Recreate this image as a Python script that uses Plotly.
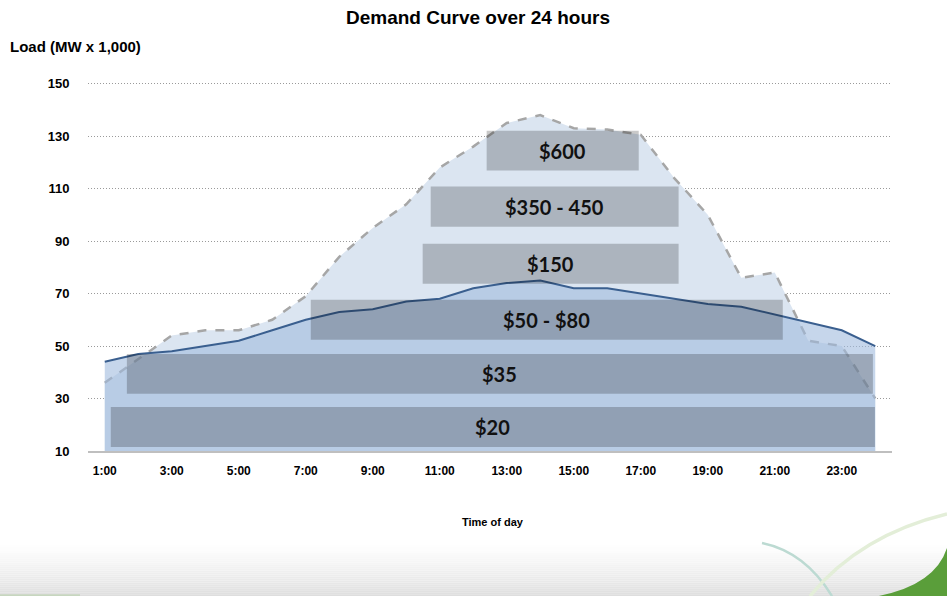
import plotly.graph_objects as go

hours = list(range(1, 25))
tick_hours = [1, 3, 5, 7, 9, 11, 13, 15, 17, 19, 21, 23]
tick_labels = ["1:00", "3:00", "5:00", "7:00", "9:00", "11:00", "13:00", "15:00",
               "17:00", "19:00", "21:00", "23:00"]
y_ticks = [10, 30, 50, 70, 90, 110, 130, 150]

# Peak-day demand (dashed, light fill)
peak_load = [36, 45, 54, 56, 56, 60, 69, 84, 95, 104, 118, 126,
             135, 138, 133, 132.5, 130.5, 114, 100, 76, 78, 52, 50, 30]
# Average demand (solid line, darker fill)
avg_load = [44, 47, 48, 50, 52, 56, 60, 63, 64, 67, 68, 72,
            74, 75, 72, 72, 70, 68, 66, 65, 62, 59, 56, 50]

price_labels = ["$20", "$35", "$50 - $80", "$150", "$350 - 450", "$600"]
# price band boxes (hour start, hour end, load low, load high)
price_boxes = [(1.18, 23.99, 11.5, 26.8),
               (1.66, 23.93, 31.8, 47.0),
               (7.15, 21.24, 52.4, 67.6),
               (10.49, 18.13, 73.7, 89.0),
               (10.73, 18.13, 95.5, 110.8),
               (12.4, 16.94, 116.9, 132.0)]

FONT = "Liberation Sans, Arial, sans-serif"
YMIN, YMAX = 10, 151

# plot area pixel geometry
W, H = 947, 596
L, R, B = 88, 892, 451
T = B - (YMAX - YMIN) * (367.0 / 140.0)


def px(x):
    return (x - L) / (R - L)


def py(y):
    return (B - y) / (B - T)


fig = go.Figure()
fig.add_trace(go.Scatter(
    x=hours, y=peak_load, mode="lines", fill="tozeroy",
    fillcolor="#dbe5f1", line=dict(color="#a6a6a6", width=2.5, dash="dash"),
    hoverinfo="skip", showlegend=False))
fig.add_trace(go.Scatter(
    x=hours, y=avg_load, mode="lines", fill="tozeroy",
    fillcolor="rgba(160,187,222,0.6)", line=dict(color="#3a5f8f", width=2),
    hoverinfo="skip", showlegend=False))

shapes = []
annotations = []
for lab, (x0, x1, y0, y1) in zip(price_labels, price_boxes):
    shapes.append(dict(type="rect", xref="x", yref="y", x0=x0, x1=x1, y0=y0, y1=y1,
                       fillcolor="rgba(0,0,0,0.21)", line=dict(width=0), layer="above"))
    annotations.append(dict(x=(x0 + x1) / 2, y=(y0 + y1) / 2, xref="x", yref="y",
                            text=lab, showarrow=False,
                            font=dict(family="Lato, Open Sans, sans-serif", size=20,
                                      color="#111111", weight="bold")))

# bottom gradient
n = 26
top_y, bot_y = 545, 596
for i in range(n):
    ya = top_y + (bot_y - top_y) * i / n
    yb = top_y + (bot_y - top_y) * (i + 1) / n
    g = int(255 - (255 - 222) * ((i + 0.5) / n) ** 1.2)
    shapes.append(dict(type="rect", xref="paper", yref="paper",
                       x0=px(0), x1=px(W), y0=py(yb), y1=py(ya),
                       fillcolor="rgb(%d,%d,%d)" % (g, g, g), line=dict(width=0), layer="below"))

# decorative curves
shapes.append(dict(type="path", xref="paper", yref="paper",
                   path="M %f,%f Q %f,%f %f,%f" % (px(762), py(543), px(805), py(552), px(832), py(596)),
                   line=dict(color="#bcdad2", width=2.5), layer="below"))
shapes.append(dict(type="path", xref="paper", yref="paper",
                   path="M %f,%f Q %f,%f %f,%f" % (px(810), py(596), px(860), py(535), px(947), py(514)),
                   line=dict(color="#e3eed8", width=3.5), layer="below"))
shapes.append(dict(type="path", xref="paper", yref="paper",
                   path="M %f,%f Q %f,%f %f,%f L %f,%f Z" % (px(878), py(596), px(935), py(585), px(947), py(548),
                                                           px(947), py(596)),
                   fillcolor="#5a9e3a", line=dict(width=0), layer="below"))
shapes.append(dict(type="line", xref="paper", yref="paper",
                   x0=px(0), x1=px(80), y0=py(595), y1=py(595),
                   line=dict(color="#c7d6bf", width=2), layer="below"))

annotations.append(dict(xref="paper", yref="paper", x=px(8), y=py(47),
                        xanchor="left", yanchor="middle", showarrow=False,
                        text="Load (MW x 1,000)",
                        font=dict(family=FONT, size=15, color="#000000", weight="bold")))
annotations.append(dict(xref="paper", yref="paper", x=px(493), y=py(522),
                        xanchor="center", yanchor="middle", showarrow=False,
                        text="Time of day",
                        font=dict(family=FONT, size=11, color="#000000", weight="bold")))

fig.update_layout(
    width=W, height=H,
    margin=dict(l=L, r=W - R, t=T, b=H - B, pad=0),
    paper_bgcolor="white", plot_bgcolor="rgba(0,0,0,0)",
    title=dict(text="Demand Curve over 24 hours", x=478 / W, xanchor="center",
               y=1 - 17 / H, yanchor="middle", yref="container",
               font=dict(family=FONT, size=19, color="#000000", weight="bold")),
    xaxis=dict(range=[0.5, 24.5], tickmode="array", tickvals=tick_hours, ticktext=tick_labels,
               showgrid=False, zeroline=False, showline=True, linecolor="#bfbfbf", linewidth=2,
               ticks="outside", ticklen=8, tickcolor="rgba(0,0,0,0)",
               tickfont=dict(family=FONT, size=12, color="#000000", weight="bold")),
    yaxis=dict(range=[YMIN, YMAX], tickmode="array", tickvals=y_ticks,
               showgrid=True, gridcolor="#9a9a9a", griddash="1px,2px", gridwidth=1,
               zeroline=False, showline=False,
               ticks="outside", ticklen=15, tickcolor="rgba(0,0,0,0)",
               tickfont=dict(family=FONT, size=13, color="#000000", weight="bold")),
    shapes=shapes, annotations=annotations,
)

fig.write_html("out.html", config={"displayModeBar": False},
               post_script="document.body.style.margin='0px';document.body.style.overflow='hidden';")
